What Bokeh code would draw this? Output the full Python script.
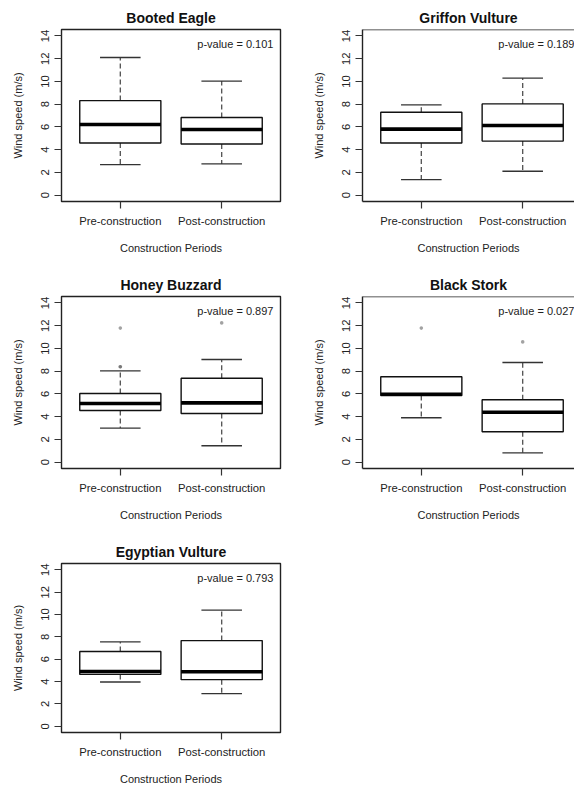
from bokeh.plotting import figure
from bokeh.models import Range1d, FixedTicker, ColumnDataSource, Span
from bokeh.layouts import column, row
from bokeh.core.properties import value
from bokeh.embed import file_html
from bokeh.resources import INLINE

# Wind speed (m/s) box-plot statistics per species, [pre, post]
species = ["Booted Eagle", "Griffon Vulture", "Honey Buzzard", "Black Stork", "Egyptian Vulture"]
periods = ["Pre-construction", "Post-construction"]
p_values = ["0.101", "0.189", "0.897", "0.027", "0.793"]

whisker_low = [[2.68, 2.74], [1.37, 2.10], [2.99, 1.44], [3.90, 0.82], [3.96, 2.91]]
q1 = [[4.58, 4.49], [4.58, 4.75], [4.54, 4.28], [5.86, 2.67], [4.64, 4.17]]
median = [[6.21, 5.77], [5.80, 6.12], [5.16, 5.21], [5.97, 4.39], [4.90, 4.87]]
q3 = [[8.31, 6.82], [7.29, 8.02], [6.03, 7.38], [7.50, 5.48], [6.69, 7.66]]
whisker_high = [[12.10, 10.03], [7.93, 10.29], [8.03, 9.02], [7.50, 8.76], [7.54, 10.39]]
outliers = [
    [[], []],
    [[], []],
    [[11.78, 8.38, 8.38], [12.24]],
    [[11.78], [10.57]],
    [[], []],
]

y_ticks = [0, 2, 4, 6, 8, 10, 12, 14]

FONT = "Liberation Sans"
BOX_W = 0.8
CAP_W = 0.4
X_START, X_END = 0.42, 2.58
Y_START, Y_END = -0.56, 14.56


def make_panel(i, right_col, height, border_bottom):
    # right-hand panels run off the page edge, so their frame is cut short
    frame_w = 212 if right_col else 219
    x_end = X_START + frame_w / 219 * (X_END - X_START)
    p = figure(
        width=61 + frame_w + (0 if right_col else 21),
        height=height,
        x_range=Range1d(X_START, x_end),
        y_range=Range1d(Y_START, Y_END),
        min_border_left=61,
        min_border_right=0 if right_col else 21,
        min_border_top=29,
        min_border_bottom=border_bottom,
        output_backend="svg",
        toolbar_location=None,
        title=species[i],
    )
    p.grid.visible = False
    p.title.align = "center"
    p.title.text_font = FONT
    p.title.text_font_style = "bold"
    p.title.text_font_size = "14px"
    p.title.text_color = "#111111"
    p.title.standoff = 7

    xs = [k + 1 for k in range(len(periods))]
    src = ColumnDataSource(dict(
        x=xs,
        bl=[x - BOX_W / 2 for x in xs],
        br=[x + BOX_W / 2 for x in xs],
        cl=[x - CAP_W / 2 for x in xs],
        cr=[x + CAP_W / 2 for x in xs],
        lo=whisker_low[i], q1=q1[i], med=median[i], q3=q3[i], hi=whisker_high[i],
    ))

    # whiskers
    p.segment(x0="x", y0="q3", x1="x", y1="hi", source=src,
              line_color="#505050", line_width=1.3, line_dash="5 3")
    p.segment(x0="x", y0="q1", x1="x", y1="lo", source=src,
              line_color="#505050", line_width=1.3, line_dash="5 3")
    # caps
    p.segment(x0="cl", y0="hi", x1="cr", y1="hi", source=src,
              line_color="#333333", line_width=1.3)
    p.segment(x0="cl", y0="lo", x1="cr", y1="lo", source=src,
              line_color="#333333", line_width=1.3)
    # boxes
    p.vbar(x="x", width=BOX_W, top="q3", bottom="q1", source=src,
           fill_color="white", line_color="#111111", line_width=1.4)
    # medians
    p.segment(x0="bl", y0="med", x1="br", y1="med", source=src,
              line_color="black", line_width=3.6)

    ox, oy = [], []
    for k, vals in enumerate(outliers[i]):
        ox += [xs[k]] * len(vals)
        oy += vals
    if ox:
        p.scatter(x=ox, y=oy, size=3.6, marker="circle",
                  fill_color="#555555", fill_alpha=0.55, line_color=None)

    p.text(x=[X_START + 2.09], y=[13.3], text=["p-value = " + p_values[i]],
           text_align="right", text_baseline="middle",
           text_font=value(FONT), text_font_size="11px", text_color="#222222")

    # axes
    for ax in (p.xaxis[0], p.yaxis[0]):
        ax.major_tick_in = 0
        ax.major_tick_out = 7
        ax.minor_tick_line_color = None
        ax.major_tick_line_color = "#333333"
        ax.major_tick_line_width = 1.2
        ax.major_label_text_font = FONT
        ax.major_label_text_font_size = "11.3px"
        ax.major_label_text_color = "#222222"
        ax.axis_label_text_font = FONT
        ax.axis_label_text_font_size = "11px"
        ax.axis_label_text_font_style = "normal"
        ax.axis_label_text_color = "#222222"

    p.xaxis.ticker = FixedTicker(ticks=xs)
    p.xaxis.major_label_overrides = {x: lab for x, lab in zip(xs, periods)}
    p.xaxis.major_label_standoff = 6
    p.xaxis.axis_label = "Construction Periods"
    p.xaxis.axis_label_standoff = 12

    p.yaxis.ticker = FixedTicker(ticks=y_ticks)
    p.yaxis.major_label_orientation = "vertical"
    p.yaxis.major_label_standoff = 5
    p.yaxis.axis_label = "Wind speed (m/s)"
    p.yaxis.axis_label_standoff = 15

    if right_col:
        # draw left, bottom and top sides only
        p.outline_line_color = None
        p.outline_line_alpha = 0
        p.outline_line_width = 0
        p.xaxis.axis_line_color = "#222222"
        p.xaxis.axis_line_width = 1.4
        p.yaxis.axis_line_color = "#222222"
        p.yaxis.axis_line_width = 1.4
        p.add_layout(Span(location=Y_END, dimension="width",
                          line_color="#222222", line_width=1.4))
    else:
        p.outline_line_color = "#222222"
        p.outline_line_width = 1.4
        p.outline_line_alpha = 1.0
        p.xaxis.axis_line_color = None
        p.yaxis.axis_line_color = None
    return p


p1 = make_panel(0, False, 267, 66)
p2 = make_panel(1, True, 267, 66)
p3 = make_panel(2, False, 267, 66)
p4 = make_panel(3, True, 267, 66)
p5 = make_panel(4, False, 253, 52)

layout = column(row(p1, p2), row(p3, p4), row(p5))
open("out.html", "w").write(file_html(layout, INLINE))
